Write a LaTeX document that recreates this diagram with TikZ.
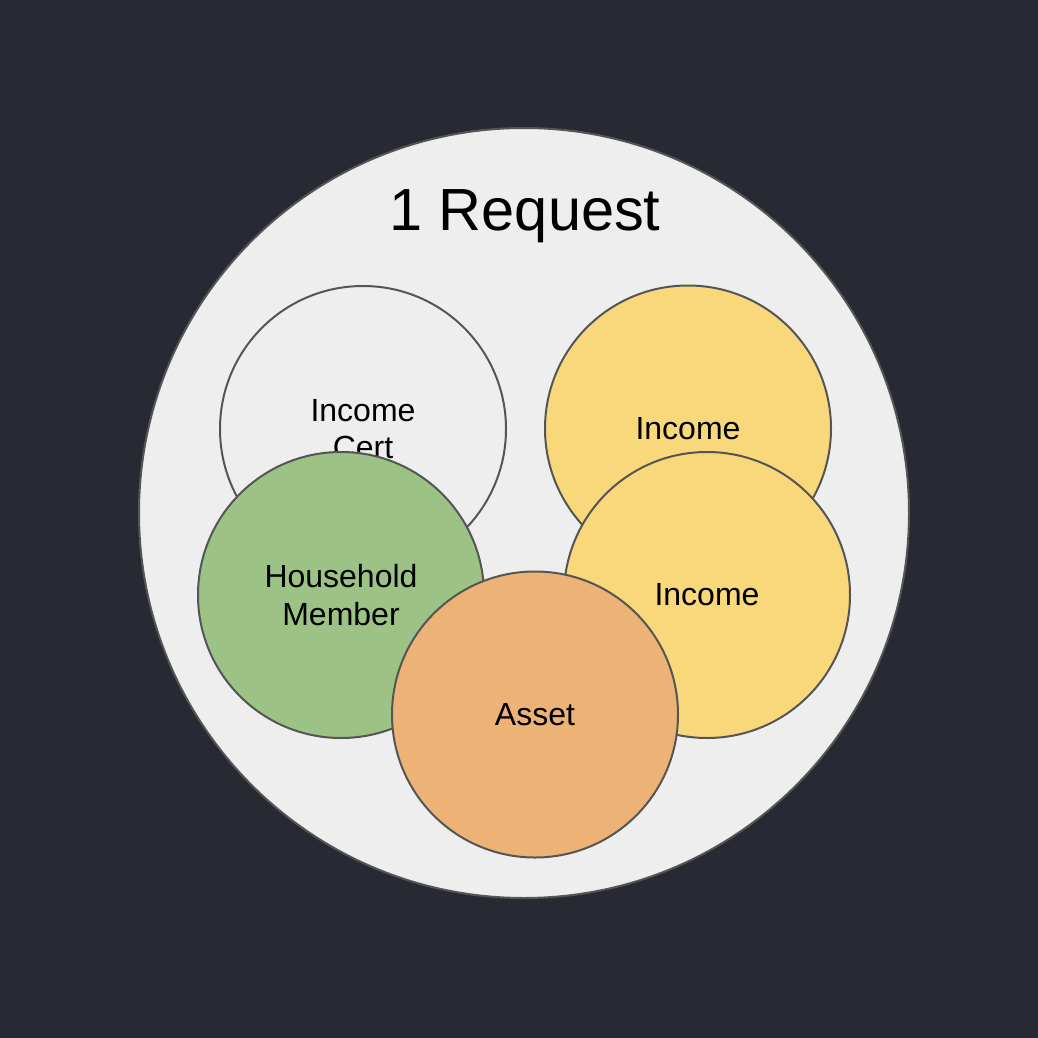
\documentclass[tikz,border=0pt]{standalone}
\usepackage{fontspec}
\setmainfont{Liberation Sans}
\definecolor{bg}{HTML}{282A33}
\definecolor{panel}{HTML}{EEEEEE}
\definecolor{edge}{HTML}{555555}
\definecolor{green}{HTML}{9DC285}
\definecolor{yellow}{HTML}{F9D77B}
\definecolor{orange}{HTML}{EDB376}
\tikzset{
  bubble/.style={circle, draw=edge, line width=2pt, minimum size=286pt, inner sep=0pt,
    align=center, font=\fontsize{32}{37.5}\selectfont, text=black},
}
\begin{document}
\begin{tikzpicture}[x=1pt,y=-1pt]
\fill[bg] (0,0) rectangle (1038,1038);
\useasboundingbox (0,0) rectangle (1038,1038);
\node[circle, draw=edge, fill=panel, line width=2pt, minimum size=770pt, inner sep=0pt] (req) at (524,513) {};
\node[font=\fontsize{59.5}{64}\selectfont, text=black] (title) at (525,216) {1 Request};
\node[bubble, fill=panel] (cert) at (363,429) {Income\\Cert};
\node[bubble, fill=yellow] (inc1) at (688,428.5) {Income};
\node[bubble, fill=green] (hh) at (341,595) {Household\\Member};
\node[bubble, fill=yellow] (inc2) at (707,595) {Income};
\node[bubble, fill=orange] (asset) at (535,714.5) {Asset};
\end{tikzpicture}
\end{document}
